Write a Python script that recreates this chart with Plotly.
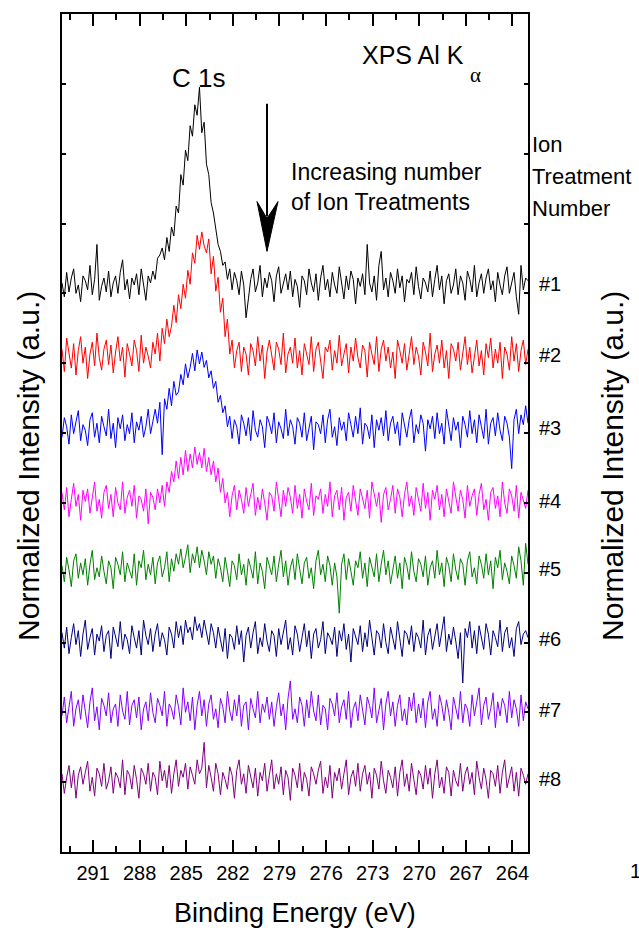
import plotly.graph_objects as go

# ---------------- data ----------------
E_START = 293.0   # binding energy of first channel (eV)
E_END = 263.0     # binding energy of last channel (eV)

trace_labels = ["#1", "#2", "#3", "#4", "#5", "#6", "#7", "#8"]
trace_colors = ["#000000", "#ff0000", "#0000ff", "#ff00ff",
                "#008000", "#000080", "#8000ff", "#800080"]
trace_offsets = [8.1, 7.08, 6.04, 5.0, 4.02, 3.02, 2.0, 1.02]

intensity_1 = [
    0.05, -0.15, 0.2, -0.08, 0.12, 0.25, -0.1, 0.02, -0.22, 0.15,
    0.08, -0.05, 0.3, -0.12, 0.1, 0.6, -0.2, 0.0, 0.12, -0.08,
    0.22, -0.15, 0.05, 0.15, -0.1, 0.2, 0.38, -0.05, 0.1, -0.18,
    0.12, 0.02, 0.18, -0.12, 0.25, 0.0, -0.2, 0.15, 0.05, 0.22,
    0.1, 0.4, 0.45, 0.55, 0.38, 0.7, 0.5, 0.85, 0.72, 1.15,
    1.05, 1.6, 1.45, 1.95, 1.8, 2.3, 2.15, 2.6, 2.45, 2.85,
    2.2, 2.35, 1.75, 1.6, 1.2, 1.05, 0.8, 0.6, 0.5, 0.3,
    0.35, 0.1, 0.25, -0.05, 0.2, 0.08, -0.12, 0.22, 0.02, -0.45,
    -0.18, 0.1, 0.25, -0.08, 0.05, 0.3, -0.15, 0.12, -0.02, 0.2,
    0.08, -0.22, 0.15, 0.28, -0.1, 0.05, 0.18, -0.05, 0.22, -0.15,
    0.1, 0.0, -0.3, 0.15, 0.08, -0.12, 0.25, 0.05, -0.08, 0.18,
    -0.2, 0.12, 0.3, -0.05, 0.1, -0.15, 0.2, 0.02, -0.1, 0.28,
    0.05, -0.18, 0.15, -0.05, 0.22, 0.1, -0.25, 0.12, 0.0, 0.18,
    -0.12, 0.6, 0.05, -0.08, 0.15, -0.2, 0.3, 0.5, -0.05, 0.12,
    -0.15, 0.2, 0.08, -0.1, 0.25, -0.02, 0.15, -0.22, 0.1, 0.05,
    0.2, -0.12, 0.28, 0.0, -0.18, 0.12, 0.05, -0.08, 0.22, -0.15,
    0.1, 0.3, -0.05, 0.15, -0.25, 0.08, 0.18, -0.1, 0.02, 0.25,
    -0.12, 0.15, 0.05, -0.2, 0.22, 0.1, -0.08, 0.3, -0.15, 0.05,
    0.18, -0.1, 0.12, 0.25, -0.05, 0.08, -0.22, 0.2, 0.02, -0.12,
    0.15, 0.28, -0.1, 0.05, 0.2, -0.15, -0.4, 0.3, -0.05, 0.12,
    0.08]

intensity_2 = [
    0.12, -0.2, 0.28, 0.05, -0.15, 0.2, -0.25, 0.1, 0.3, -0.08,
    0.15, -0.3, 0.05, 0.22, -0.12, 0.35, 0.0, -0.18, 0.12, 0.25,
    -0.1, 0.18, -0.22, 0.08, 0.3, -0.05, 0.15, -0.28, 0.2, 0.05,
    -0.12, 0.25, 0.1, -0.2, 0.32, -0.08, 0.15, 0.02, -0.15, 0.22,
    0.05, 0.35, -0.05, 0.42, 0.2, 0.55, 0.3, 0.45, 0.75, 0.5,
    0.9, 0.7, 1.05, 0.85, 1.25, 1.05, 1.5, 1.35, 1.75, 1.55,
    1.8, 1.6, 1.5, 1.7, 1.2, 1.45, 0.95, 1.15, 0.65, 0.85,
    0.3, 0.55, 0.05, 0.25, -0.15, 0.1, 0.22, -0.2, 0.15, 0.05,
    -0.25, 0.2, 0.1, -0.12, 0.3, -0.05, 0.18, -0.3, 0.08, 0.25,
    0.0, -0.18, 0.22, 0.12, -0.1, 0.35, -0.22, 0.05, 0.15, -0.08,
    0.28, -0.15, 0.1, -0.25, 0.2, 0.05, -0.1, 0.3, -0.2, 0.12,
    0.22, -0.05, -0.3, 0.15, 0.08, 0.25, -0.18, 0.1, -0.08, 0.32,
    -0.12, 0.05, 0.2, -0.22, 0.15, -0.05, 0.28, 0.0, -0.15, 0.18,
    0.1, -0.28, 0.22, 0.05, -0.1, 0.3, -0.2, 0.12, 0.25, -0.05,
    0.15, -0.15, 0.08, -0.3, 0.25, 0.1, -0.08, 0.2, -0.18, 0.05,
    0.3, -0.1, 0.15, 0.02, -0.25, 0.22, 0.08, -0.12, 0.35, -0.2,
    0.05, 0.18, -0.08, 0.25, -0.15, 0.1, -0.3, 0.2, 0.12, -0.05,
    0.22, -0.18, 0.08, 0.3, -0.1, 0.15, -0.22, 0.05, 0.25, -0.12,
    0.1, -0.25, 0.2, 0.0, 0.28, -0.15, 0.12, -0.08, 0.22, -0.3,
    0.15, 0.05, -0.18, 0.3, -0.05, 0.2, -0.2, 0.1, 0.25, -0.1,
    0.12]

intensity_3 = [
    -0.1, 0.18, 0.05, -0.2, 0.22, -0.05, 0.12, 0.28, -0.15, 0.08,
    0.0, -0.22, 0.15, 0.25, -0.1, 0.1, -0.18, 0.2, 0.05, -0.08,
    0.3, -0.12, 0.1, -0.25, 0.18, 0.02, 0.22, -0.15, 0.08, -0.05,
    0.25, -0.18, 0.12, 0.0, 0.2, -0.1, 0.05, 0.3, -0.05, 0.15,
    0.3, 0.1, 0.4, -0.35, 0.45, 0.3, 0.6, 0.35, 0.7, 0.5,
    0.55, 0.8, 0.65, 0.95, 0.75, 0.9, 1.1, 0.85, 1.15, 0.95,
    1.12, 0.9, 1.0, 0.75, 0.85, 0.6, 0.7, 0.4, 0.5, 0.25,
    0.35, 0.05, 0.2, -0.12, 0.15, 0.05, -0.2, 0.22, 0.1, -0.08,
    0.18, -0.15, 0.28, 0.0, -0.1, 0.15, 0.05, -0.25, 0.2, 0.1,
    -0.05, 0.25, -0.18, 0.12, 0.02, -0.12, 0.3, -0.08, 0.15, 0.05,
    -0.2, 0.18, 0.1, -0.1, 0.25, -0.15, 0.05, 0.2, -0.28, 0.12,
    0.08, -0.05, 0.22, -0.18, 0.15, 0.3, -0.1, 0.05, -0.22, 0.18,
    0.0, 0.12, -0.15, 0.25, 0.08, -0.1, 0.2, -0.05, 0.32, -0.2,
    0.1, 0.05, -0.12, 0.22, -0.25, 0.15, 0.0, 0.18, -0.08, 0.28,
    -0.15, 0.1, 0.2, -0.05, 0.12, -0.22, 0.25, 0.05, -0.1, 0.15,
    0.3, -0.18, 0.08, -0.05, 0.22, 0.1, -0.3, 0.15, 0.02, 0.2,
    -0.12, 0.25, -0.05, 0.1, -0.2, 0.3, 0.05, -0.15, 0.18, 0.0,
    0.12, -0.25, 0.2, 0.08, -0.1, 0.28, -0.05, 0.15, -0.18, 0.22,
    0.05, -0.12, 0.3, -0.2, 0.1, 0.18, -0.08, 0.25, 0.0, -0.15,
    0.2, 0.1, -0.1, -0.55, 0.15, 0.3, -0.05, 0.22, 0.08, 0.35,
    0.1]

intensity_4 = [
    0.15, -0.1, 0.22, -0.2, 0.05, 0.28, -0.05, 0.12, -0.25, 0.18,
    0.02, 0.2, -0.15, 0.1, 0.3, -0.12, 0.05, -0.22, 0.15, 0.25,
    -0.08, 0.12, -0.2, 0.22, 0.0, -0.1, 0.3, -0.15, 0.08, 0.18,
    -0.05, 0.25, -0.22, 0.1, 0.05, -0.12, 0.2, -0.3, 0.15, 0.08,
    -0.1, 0.2, 0.0, 0.25, -0.05, 0.3, 0.15, 0.45, 0.3, 0.6,
    0.35, 0.65, 0.4, 0.75, 0.45, 0.7, 0.5, 0.8, 0.55, 0.72,
    0.5, 0.78, 0.45, 0.65, 0.4, 0.6, 0.3, 0.5, 0.15, 0.35,
    0.0, 0.15, -0.2, 0.1, 0.25, -0.1, 0.18, 0.05, -0.15, 0.22,
    -0.05, 0.12, 0.28, -0.18, 0.08, -0.1, 0.2, 0.0, -0.25, 0.15,
    0.1, -0.12, 0.3, 0.05, -0.2, 0.18, -0.05, 0.22, 0.08, -0.15,
    0.25, -0.08, 0.12, -0.22, 0.2, 0.02, -0.1, 0.28, -0.18, 0.1,
    0.05, 0.2, -0.15, 0.12, -0.05, 0.3, -0.2, 0.1, 0.18, -0.1,
    0.22, -0.25, 0.08, 0.15, -0.12, 0.25, 0.0, -0.18, 0.2, 0.05,
    -0.08, 0.18, -0.22, 0.3, 0.1, -0.05, 0.15, -0.28, 0.12, 0.22,
    -0.1, 0.05, 0.25, -0.15, 0.2, 0.08, -0.2, 0.12, 0.3, -0.05,
    0.1, -0.18, 0.22, 0.02, -0.12, 0.28, -0.08, 0.15, -0.25, 0.18,
    0.05, 0.25, -0.1, 0.12, -0.2, 0.2, 0.0, -0.15, 0.3, 0.08,
    -0.12, 0.18, 0.05, -0.22, 0.25, -0.05, 0.1, 0.2, -0.18, 0.12,
    0.28, -0.1, 0.05, -0.25, 0.15, 0.22, -0.08, 0.1, -0.2, 0.3,
    0.0, -0.15, 0.2, 0.1, -0.12, 0.25, -0.22, 0.15, 0.05, -0.08,
    0.18]

intensity_5 = [
    0.08, -0.15, 0.2, 0.02, -0.22, 0.15, 0.25, -0.1, 0.12, -0.05,
    0.18, -0.2, 0.1, 0.3, -0.12, 0.05, -0.08, 0.22, 0.0, -0.18,
    0.15, 0.05, -0.25, 0.2, 0.1, -0.05, 0.28, -0.15, 0.12, 0.02,
    -0.1, 0.25, -0.2, 0.15, 0.05, 0.3, -0.12, 0.1, -0.05, 0.2,
    -0.18, 0.12, 0.22, -0.08, 0.05, 0.28, -0.15, 0.18, 0.0, 0.25,
    0.1, 0.32, 0.05, 0.2, 0.38, -0.02, 0.25, 0.12, 0.35, 0.05,
    0.3, 0.15, -0.05, 0.28, 0.1, 0.22, -0.1, 0.18, 0.05, -0.15,
    0.2, 0.0, -0.22, 0.15, 0.08, -0.12, 0.25, -0.05, 0.1, -0.2,
    0.18, 0.05, -0.1, 0.28, -0.18, 0.12, 0.0, -0.25, 0.2, 0.08,
    -0.05, 0.22, -0.15, 0.1, 0.3, -0.08, 0.15, -0.2, 0.05, 0.18,
    -0.12, 0.25, 0.02, -0.18, 0.12, 0.2, -0.1, 0.05, -0.25, 0.15,
    0.3, -0.05, 0.1, -0.15, 0.22, 0.08, -0.2, 0.12, -0.08, -0.6,
    0.1, 0.25, -0.12, 0.18, 0.0, -0.2, 0.15, 0.05, 0.28, -0.1,
    0.12, -0.22, 0.2, 0.05, -0.08, 0.25, -0.15, 0.1, 0.3, -0.05,
    0.15, -0.18, 0.02, 0.22, -0.1, 0.12, -0.25, 0.2, 0.08, -0.12,
    0.28, 0.0, -0.15, 0.18, 0.1, -0.08, 0.22, -0.2, 0.05, 0.15,
    -0.1, 0.3, -0.05, 0.12, -0.22, 0.2, 0.08, -0.15, 0.25, 0.02,
    -0.12, 0.18, 0.1, -0.2, 0.15, 0.28, -0.08, 0.05, -0.18, 0.22,
    0.1, -0.1, 0.25, -0.05, 0.15, -0.25, 0.2, 0.05, 0.3, -0.12,
    0.12, 0.0, -0.18, 0.22, 0.08, -0.1, 0.35, 0.15, -0.2, 0.4,
    0.1]

intensity_6 = [
    0.12, -0.1, 0.2, -0.18, 0.05, 0.25, -0.05, 0.15, -0.22, 0.1,
    0.3, -0.12, 0.05, 0.18, -0.2, 0.1, 0.0, 0.22, -0.15, 0.08,
    0.15, -0.25, 0.2, 0.05, -0.08, 0.28, -0.12, 0.1, 0.02, -0.18,
    0.22, 0.05, -0.1, 0.15, -0.2, 0.3, 0.08, -0.05, 0.18, -0.15,
    0.1, 0.25, -0.08, 0.12, 0.02, -0.2, 0.2, 0.1, -0.1, 0.28,
    0.05, 0.22, -0.05, 0.3, 0.12, 0.2, 0.02, 0.35, 0.15, 0.25,
    0.05, 0.3, 0.1, -0.05, 0.25, 0.12, -0.1, 0.2, 0.02, -0.15,
    0.18, -0.25, 0.1, 0.05, -0.12, 0.22, -0.05, 0.15, -0.3, 0.08,
    0.2, -0.1, 0.12, 0.28, -0.18, 0.05, -0.08, 0.25, 0.0, -0.15,
    0.15, 0.08, -0.22, 0.18, -0.05, 0.12, 0.3, -0.12, 0.05, -0.2,
    0.22, 0.1, -0.15, 0.05, 0.25, -0.08, 0.15, -0.25, 0.1, 0.18,
    -0.1, 0.02, 0.28, -0.18, 0.12, 0.05, -0.05, 0.2, -0.22, 0.15,
    0.0, 0.25, -0.12, 0.1, -0.3, 0.18, 0.08, -0.05, 0.22, -0.15,
    0.12, -0.08, 0.3, 0.05, -0.2, 0.15, 0.1, -0.1, 0.25, -0.02,
    -0.18, 0.2, 0.05, -0.12, 0.28, 0.0, -0.22, 0.15, 0.1, -0.05,
    0.22, -0.15, 0.12, 0.05, -0.1, 0.3, -0.2, 0.08, 0.18, -0.12,
    0.05, 0.25, -0.08, 0.15, 0.35, -0.15, 0.1, -0.05, 0.2, 0.0,
    -0.25, 0.12, -0.6, 0.18, 0.05, 0.28, -0.1, 0.15, -0.18, 0.22,
    0.02, -0.12, 0.25, 0.1, -0.2, 0.15, 0.05, -0.08, 0.3, -0.15,
    0.12, 0.2, -0.1, 0.05, -0.22, 0.18, 0.28, -0.05, 0.1, 0.15,
    0.05]

intensity_7 = [
    -0.05, 0.22, -0.15, 0.1, 0.3, -0.2, 0.05, 0.18, -0.1, 0.25,
    0.0, -0.22, 0.15, 0.35, -0.12, 0.08, -0.25, 0.2, 0.1, -0.05,
    0.28, -0.15, 0.05, 0.12, -0.2, 0.25, 0.02, -0.1, 0.3, -0.18,
    0.1, 0.18, -0.08, 0.22, -0.25, 0.05, 0.15, -0.12, 0.28, 0.0,
    -0.15, 0.2, 0.1, -0.05, 0.3, -0.2, 0.12, 0.05, -0.1, 0.25,
    0.08, -0.18, 0.35, 0.0, 0.15, -0.12, 0.22, -0.25, 0.1, 0.3,
    -0.05, 0.18, -0.2, 0.12, 0.25, -0.1, 0.05, -0.22, 0.2, 0.08,
    -0.15, 0.3, 0.02, -0.12, 0.18, -0.05, 0.25, -0.2, 0.1, 0.15,
    -0.25, 0.2, 0.05, -0.08, 0.3, -0.15, 0.12, 0.0, 0.22, -0.1,
    0.15, -0.2, 0.08, 0.28, -0.05, 0.12, -0.25, 0.2, 0.45, -0.1,
    0.05, -0.15, 0.22, 0.1, -0.2, 0.18, -0.08, 0.3, 0.02, -0.12,
    0.25, -0.18, 0.1, 0.05, -0.25, 0.2, 0.12, -0.05, 0.28, -0.15,
    0.08, 0.18, -0.1, 0.3, -0.22, 0.05, 0.15, -0.12, 0.25, 0.0,
    -0.18, 0.22, 0.1, -0.08, 0.35, -0.15, 0.05, 0.2, -0.25, 0.12,
    0.3, -0.05, 0.15, -0.2, 0.1, 0.25, -0.12, 0.05, -0.18, 0.22,
    0.02, 0.28, -0.15, 0.12, -0.08, 0.2, -0.22, 0.15, 0.3, -0.1,
    0.05, -0.2, 0.25, 0.1, -0.12, 0.18, 0.0, -0.25, 0.22, 0.08,
    -0.1, 0.3, -0.15, 0.12, 0.05, -0.2, 0.25, -0.05, 0.15, 0.35,
    -0.18, 0.1, 0.22, -0.1, 0.05, 0.28, -0.22, 0.15, -0.05, 0.2,
    0.1, -0.15, 0.3, -0.08, 0.18, 0.05, -0.2, 0.25, -0.12, 0.15,
    0.05]

intensity_8 = [
    0.1, -0.18, 0.05, 0.22, -0.1, 0.15, -0.25, 0.08, 0.2, -0.05,
    0.12, 0.28, -0.15, 0.05, -0.22, 0.18, 0.1, -0.08, 0.25, -0.12,
    0.0, 0.2, -0.18, 0.12, 0.05, -0.1, 0.3, -0.2, 0.15, 0.08,
    -0.12, 0.22, 0.02, -0.25, 0.18, 0.1, -0.05, 0.25, -0.15, 0.12,
    0.05, -0.2, 0.28, 0.0, 0.15, -0.1, 0.22, -0.18, 0.1, 0.3,
    -0.08, 0.15, 0.05, 0.25, -0.12, 0.2, 0.08, -0.05, 0.3, 0.1,
    0.18, 0.55, -0.1, 0.22, 0.05, -0.15, 0.25, 0.1, -0.2, 0.12,
    0.02, -0.12, 0.2, 0.08, -0.25, 0.15, 0.3, -0.05, 0.1, -0.18,
    0.22, 0.05, -0.1, 0.18, -0.22, 0.12, 0.0, 0.25, -0.15, 0.08,
    0.3, -0.12, 0.1, -0.05, 0.2, -0.2, 0.15, 0.05, -0.28, 0.18,
    0.08, -0.1, 0.25, -0.15, 0.12, 0.02, -0.22, 0.2, 0.1, -0.05,
    0.15, 0.28, -0.18, 0.05, -0.1, 0.22, -0.25, 0.12, 0.0, 0.18,
    -0.12, 0.1, 0.3, -0.2, 0.05, 0.15, -0.08, 0.25, -0.15, 0.1,
    0.22, -0.05, 0.12, -0.25, 0.18, 0.08, -0.12, 0.28, 0.0, -0.18,
    0.15, 0.05, -0.1, 0.2, -0.22, 0.12, 0.3, -0.08, 0.1, -0.15,
    0.25, 0.02, -0.2, 0.15, 0.08, -0.12, 0.22, -0.05, 0.18, -0.25,
    0.1, 0.3, -0.1, 0.05, -0.18, 0.2, 0.12, -0.22, 0.15, 0.0,
    -0.08, 0.25, -0.15, 0.1, 0.2, -0.05, 0.12, -0.2, 0.28, 0.05,
    -0.12, 0.18, 0.02, -0.25, 0.15, 0.1, -0.08, 0.22, -0.18, 0.12,
    0.3, -0.1, 0.05, 0.2, -0.15, 0.12, -0.22, 0.18, 0.08, -0.05,
    0.1]

intensities = [intensity_1, intensity_2, intensity_3, intensity_4,
               intensity_5, intensity_6, intensity_7, intensity_8]

x_tick0 = 264
x_dtick = 3

# ---------------- figure ----------------
FONT = "Liberation Sans, Arial, sans-serif"

fig = go.Figure()
for vals, col, off in zip(intensities, trace_colors, trace_offsets):
    n = len(vals)
    step = (E_START - E_END) / (n - 1)
    energy = [E_START - step * i for i in range(n)]
    fig.add_trace(go.Scatter(
        x=energy, y=[v + off for v in vals], mode="lines",
        line=dict(color=col, width=1), showlegend=False, hoverinfo="skip"))

L, R, T, B = 62, 528, 12, 852
W, H = 639, 931
pw, ph = R - L, B - T


def px(xp):
    return (xp - L) / pw


def py(yp):
    return (B - yp) / ph


def txt(text, xp, yp, size, xanchor="center", family=FONT, angle=0):
    return dict(text=text, xref="paper", yref="paper", x=px(xp), y=py(yp),
                xanchor=xanchor, yanchor="middle", showarrow=False,
                textangle=angle, align="left",
                font=dict(family=family, size=size, color="black"))


ann = []
ann.append(txt("Binding Energy (eV)", 295, 913, 27))
for xp in (29, 613):
    ann.append(txt("Normalized Intensity (a.u.)", xp, 465, 30, angle=-90))
ann.append(txt("C 1s", 198, 76, 26))
ann.append(txt("XPS Al K", 360, 53, 25, xanchor="left"))
ann.append(txt("α", 475, 73, 21, family="Liberation Serif, Times New Roman, serif"))
ann.append(txt("Increasing number<br>of Ion Treatments", 289, 185, 23,
               xanchor="left"))
for line, yp in zip(["Ion", "Treatment", "Number"], [143, 175, 207]):
    ann.append(txt(line, 530, yp, 22, xanchor="left"))
for lab, off in zip(trace_labels, trace_offsets):
    ann.append(dict(text=lab, xref="paper", yref="y", x=px(537), y=off + 0.03,
                    showarrow=False, xanchor="left", yanchor="middle",
                    font=dict(family=FONT, size=20, color="black")))
# partially visible tick label of neighbouring panel
ann.append(txt("14", 628, 871, 20, xanchor="left"))

# arrow (line + notched head)
shapes = [
    dict(type="line", xref="paper", yref="paper", x0=px(267), x1=px(267),
         y0=py(102), y1=py(215), line=dict(color="black", width=2)),
    dict(type="path", xref="paper", yref="paper",
         path=(f"M {px(257)},{py(200)} L {px(267)},{py(250)} "
               f"L {px(278)},{py(200)} L {px(267)},{py(217)} Z"),
         fillcolor="black", line=dict(color="black", width=1)),
]

fig.update_layout(
    width=W, height=H,
    margin=dict(l=L, r=W - R, t=T, b=H - B, pad=0),
    paper_bgcolor="white", plot_bgcolor="white",
    annotations=ann, shapes=shapes,
    xaxis=dict(range=[E_START, E_END], tickmode="linear", tick0=x_tick0,
               dtick=x_dtick, ticks="inside", ticklen=12, tickwidth=1.5,
               tickcolor="black", showline=True, linewidth=2, linecolor="black",
               mirror="ticks", showgrid=False, zeroline=False,
               tickfont=dict(family=FONT, size=20, color="black"),
               ticklabelstandoff=2,
               minor=dict(dtick=1.5, tick0=x_tick0, ticks="inside", ticklen=6,
                          tickwidth=1.5, tickcolor="black", showgrid=False)),
    yaxis=dict(range=[0, 12], tickmode="linear", tick0=0, dtick=1,
               ticks="inside", ticklen=4, tickwidth=1.5, tickcolor="black",
               showticklabels=False, showline=True, linewidth=2,
               linecolor="black", mirror="ticks", showgrid=False,
               zeroline=False),
)

fig.write_html("out.html")
